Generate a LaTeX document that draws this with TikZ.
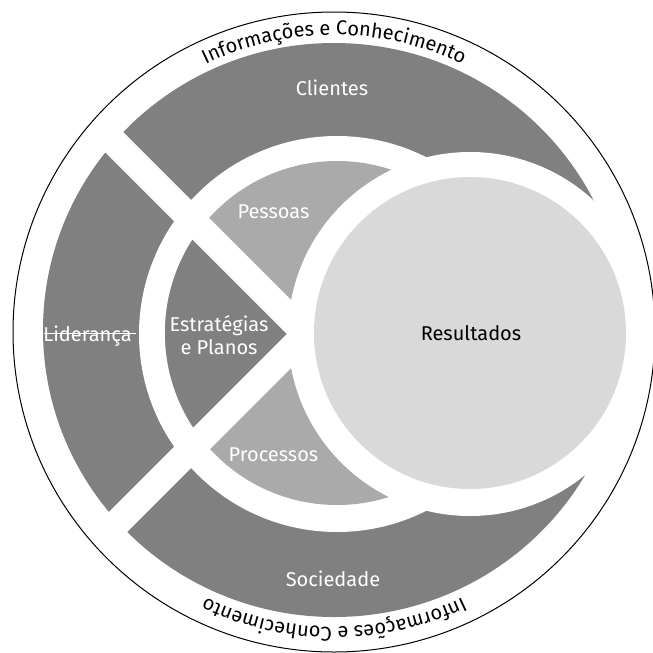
\documentclass[tikz,border=0pt]{standalone}
\usepackage{fontspec}
\setmainfont{Fira Sans}
\usetikzlibrary{decorations.text}
\definecolor{darkfill}{RGB}{128,128,128}
\definecolor{midfill}{RGB}{170,170,170}
\definecolor{lightfill}{RGB}{217,217,217}
\newcommand{\lblfont}{\fontsize{20}{23}\selectfont}
\newcommand{\arcfont}{\fontsize{20}{22}\selectfont}

\begin{document}
\begin{tikzpicture}[x=1pt, y=-1pt,
  lbl/.style={font=\lblfont, text=white, inner sep=0pt, align=center, anchor=base},
  stripe/.style={white, line width=27pt},
  arctext/.style={decorate, decoration={text along path, text align=center,
    text={|\arcfont|Informações e Conhecimento}}}]
  \useasboundingbox (0,0) rectangle (653,653);

  % Outer band: Clientes, Liderança, Sociedade
  \fill[darkfill] (334,330) ellipse [x radius=291, y radius=287];
  \fill[white] (337,334) circle [radius=198];

  % Inner disc: Pessoas, Processos, Estratégias e Planos
  \fill[midfill] (337,333) circle [radius=172];
  \begin{scope}
    \clip (337,333) circle [radius=172];
    \fill[darkfill] (306,334) -- (106,134) -- (106,534) -- cycle;
  \end{scope}

  % White cross between the parts
  \draw[stripe] (91,119) -- (346,374);
  \draw[stripe] (91,549) -- (346,294);

  % Resultados with its white rim
  \fill[white] (470,334) circle [radius=182];
  \fill[lightfill] (470,333) circle [radius=156];
  \draw[white, line width=0.8pt] (44,333) -- (136,333);

  % Labels
  \node[lbl] (clientes) at (332,95) {Clientes};
  \node[lbl] (sociedade) at (333,586) {Sociedade};
  \node[lbl] (lideranca) at (87.5,341) {Liderança};
  \node[lbl] (estrategias) at (219,354) {Estratégias\\e Planos};
  \node[lbl] (pessoas) at (273.5,218) {Pessoas};
  \node[lbl] (processos) at (273.5,461) {Processos};
  \node[lbl, text=black] (resultados) at (471,340) {Resultados};

  % Text on the rim
  \path[arctext] (334,331) ++(180:296) arc [start angle=180, end angle=360, radius=296];
  \path[arctext] (334,331) ++(0:296) arc [start angle=0, end angle=180, radius=296];

  \draw[black, line width=1pt] (334,332) ellipse [x radius=321, y radius=320];
\end{tikzpicture}
\end{document}
